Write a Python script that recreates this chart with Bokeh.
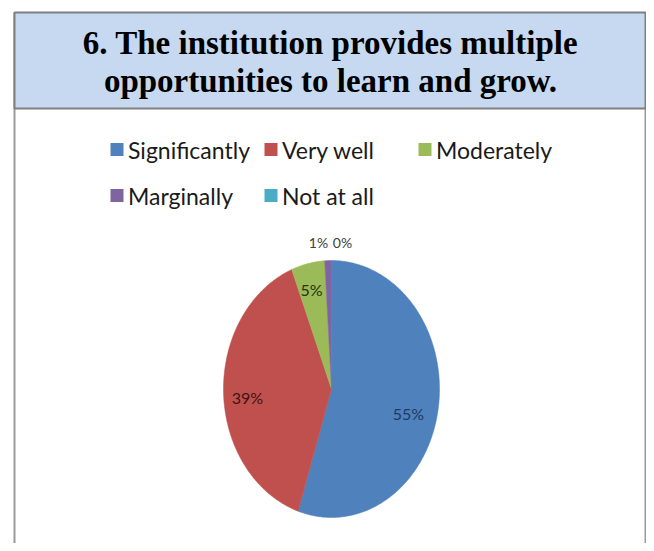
import numpy as np
from bokeh.plotting import figure
from bokeh.models import Range1d
from bokeh.core.properties import value
from bokeh.embed import file_html
from bokeh.resources import INLINE

# ---- data ----
title_lines = ["6. The institution provides multiple", "opportunities to learn and grow."]
categories = ["Significantly", "Very well", "Moderately", "Marginally", "Not at all"]
percent = [55, 39, 5, 1, 0]
colors = ["#4f81bd", "#c0504d", "#9bbb59", "#8064a2", "#4bacc6"]
label_colors = ["#1f3864", "#3b1414", "#24330f", "#404040", "#404040"]

# ---- layout (page pixels) ----
W, H = 646, 543
p = figure(width=W, height=H, x_range=Range1d(0, W), y_range=Range1d(H, 0),
           output_backend="svg", toolbar_location=None, min_border=0,
           x_axis_type=None, y_axis_type=None)
p.grid.visible = False
p.outline_line_color = None
p.background_fill_color = "white"
p.border_fill_color = "white"

BOX_L, BOX_R, BOX_T, TITLE_B = 14, 645, 12, 108
# outer frame
p.segment(x0=[BOX_L, BOX_R], y0=[BOX_T, BOX_T], x1=[BOX_L, BOX_R], y1=[H, H],
          line_color="#9a9a9a", line_width=2)
# title box
p.quad(left=[BOX_L], right=[BOX_R], top=[BOX_T], bottom=[TITLE_B],
       fill_color="#c6d9f1", line_color="#7f7f7f", line_width=2)
p.text(x=[330, 330], y=[42, 80], text=title_lines, text_align="center", text_baseline="middle",
       text_font=value("Liberation Serif"), text_font_style="bold", text_font_size="33px",
       text_color="#000000")

# ---- pie (elliptical as in reference) ----
CX, CY, RX, RY = 331, 388.5, 108, 128.5
vals = np.array(percent, dtype=float)
frac = vals / vals.sum()
ends = np.cumsum(frac) * 2 * np.pi
starts = ends - frac * 2 * np.pi
xs, ys, fc = [], [], []
for a0, a1, c in zip(starts, ends, colors):
    if a1 - a0 <= 0:
        continue
    t = np.linspace(a0, a1, max(3, int((a1 - a0) * 80)))
    xs.append([CX] + list(CX + RX * np.sin(t)))
    ys.append([CY] + list(CY - RY * np.cos(t)))
    fc.append(c)
p.patches(xs, ys, fill_color=fc, line_color=fc, line_width=0.5)

# data labels
lab_x = [408, 247, 311, 318, 342]
lab_y = [413, 397, 289, 242, 242]
lab_size = ["16px", "16px", "16px", "14px", "14px"]
p.text(x=lab_x, y=lab_y, text=[f"{v}%" for v in percent], text_align="center",
       text_baseline="middle", text_font=value("Lato"), text_font_size=lab_size,
       text_color=label_colors)

# ---- legend ----
leg_sq_x = [116.5, 270.5, 424.5, 116.5, 270.5]
leg_y = [149, 149, 149, 195, 195]
p.rect(x=leg_sq_x, y=leg_y, width=13, height=13, fill_color=colors, line_color=None)
p.text(x=[x + 11 for x in leg_sq_x], y=leg_y, text=categories, text_align="left",
       text_baseline="middle", text_font=value("Lato"), text_font_size="23px",
       text_color="#1a1a1a")

open("out.html", "w").write(file_html(p, INLINE))
